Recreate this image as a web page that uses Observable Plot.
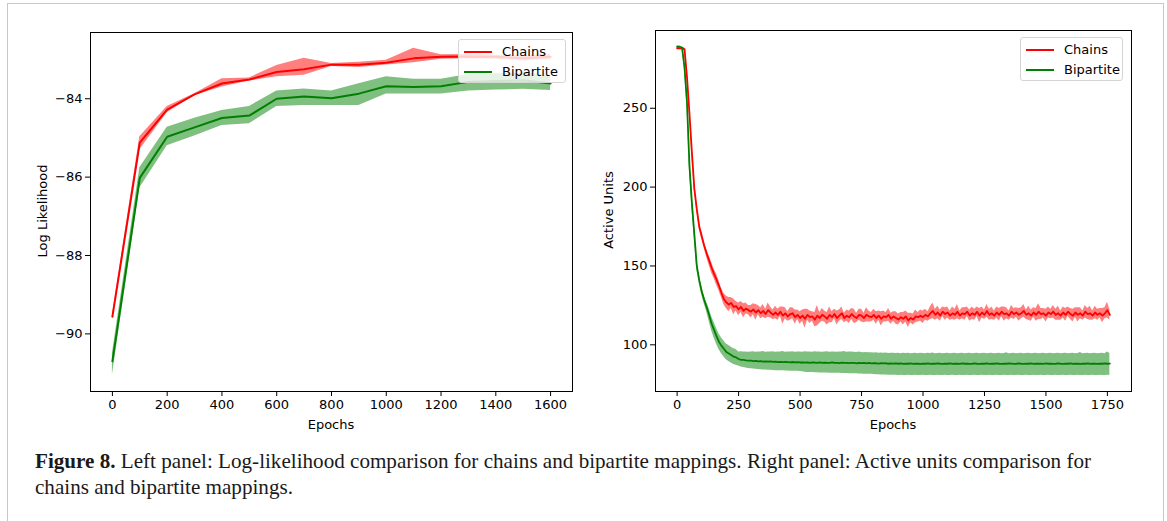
<!DOCTYPE html>
<html>
<head>
<meta charset="utf-8">
<script src="https://cdn.jsdelivr.net/npm/d3@7"></script>
<script src="https://cdn.jsdelivr.net/npm/@observablehq/plot@0.6"></script>
<style>
  html, body { margin: 0; padding: 0; background: #fff; }
  body { width: 1167px; height: 521px; overflow: hidden; position: relative; font-family: "DejaVu Sans", sans-serif; color: #000; }
  #border { position: absolute; left: 7px; top: 3px; width: 1155px; height: 540px; border: 1px solid #c8c8c8; border-bottom: none; }
  .panel { position: absolute; top: 0; }
  .panel svg { display: block; overflow: visible; }
  .ylab { position: absolute; font-size: 13px; white-space: nowrap; transform: translate(-50%, -50%) rotate(-90deg); }
  .xlab { position: absolute; font-size: 13px; white-space: nowrap; transform: translate(-50%, -50%); }
  .legend { position: absolute; background: rgba(255,255,255,0.8); border: 1px solid #d5d5d5; border-radius: 3px; font-size: 13px; z-index: 5; box-sizing: border-box; }
  .legend .row { position: absolute; left: 5px; height: 20px; line-height: 20px; display: flex; align-items: center; white-space: nowrap; }
  .legend .sw { display: inline-block; width: 28px; height: 2px; margin-right: 10px; }
  #caption { position: absolute; left: 35px; top: 448px; font-family: "Liberation Serif", "DejaVu Serif", serif; font-size: 18px; line-height: 26px; color: #1a1a1a; white-space: nowrap; }
</style>
</head>
<body>
<div id="border"></div>
<div id="left" class="panel" style="left:0px"></div>
<div id="right" class="panel" style="left:600px"></div>

<div class="ylab" style="left:42px; top:211px">Log Likelihood</div>
<div class="xlab" style="left:331px; top:424px">Epochs</div>
<div class="ylab" style="left:608px; top:210px">Active Units</div>
<div class="xlab" style="left:893px; top:424px">Epochs</div>

<div class="legend" style="left:458px; top:39px; width:108px; height:44px">
  <div class="row" style="top:2px"><span class="sw" style="background:red"></span>Chains</div>
  <div class="row" style="top:22px"><span class="sw" style="background:green"></span>Bipartite</div>
</div>
<div class="legend" style="left:1020px; top:37px; width:103px; height:44px">
  <div class="row" style="top:2px"><span class="sw" style="background:red"></span>Chains</div>
  <div class="row" style="top:22px"><span class="sw" style="background:green"></span>Bipartite</div>
</div>

<div id="caption"><span id="line1"><b>Figure 8.</b> Left panel: Log-likelihood comparison for chains and bipartite mappings. Right panel: Active units comparison for</span><br>chains and bipartite mappings.</div>

<script>
// ---------------- Left panel: log-likelihood ----------------
const llEpochs = [0, 100, 200, 300, 400, 500, 600, 700, 800, 900, 1000, 1100, 1200, 1300, 1400, 1500, 1600];
const chainsLL   = [-89.56, -85.12, -84.28, -83.89, -83.61, -83.51, -83.32, -83.25, -83.13, -83.13, -83.08, -82.97, -82.93, -82.92, -82.93, -82.97, -82.93];
const chainsLLLo = [-89.60, -85.30, -84.36, -83.92, -83.70, -83.55, -83.44, -83.40, -83.18, -83.20, -83.14, -83.08, -82.99, -82.98, -82.99, -83.04, -83.00];
const chainsLLHi = [-89.52, -84.97, -84.20, -83.87, -83.49, -83.47, -83.15, -82.97, -83.10, -83.07, -83.02, -82.71, -82.88, -82.87, -82.89, -82.91, -82.86];
const bipLL      = [-90.70, -86.02, -84.97, -84.73, -84.49, -84.43, -84.00, -83.94, -83.99, -83.87, -83.68, -83.70, -83.68, -83.57, -83.55, -83.53, -83.61];
const bipLLLo    = [-91.05, -86.28, -85.20, -84.95, -84.68, -84.64, -84.20, -84.17, -84.17, -84.17, -83.88, -83.88, -83.88, -83.80, -83.78, -83.76, -83.79];
const bipLLHi    = [-90.50, -85.76, -84.73, -84.50, -84.30, -84.20, -83.80, -83.75, -83.80, -83.62, -83.44, -83.50, -83.50, -83.38, -83.36, -83.35, -83.40];
const llXTicks = [0, 200, 400, 600, 800, 1000, 1200, 1400, 1600];
const llYTicks = [-90, -88, -86, -84];

// ---------------- Right panel: active units (every 10 epochs) ----------------
const auEpochs = d3.range(0, 1761, 10);
const chainsAU = [
  288, 288, 288, 287.5, 270, 247, 222, 199, 186, 175,
  169, 163, 158, 153.5, 149, 145, 141.5, 137.5, 133, 129,
  127, 125.5, 126.5, 124, 124.5, 122.5, 124, 121.5, 123, 122,
  121, 122.5, 120.5, 122, 120, 121.5, 119.5, 122, 120.5, 119,
  120.5, 119, 121, 118.5, 120, 118, 119.5, 120, 117.5, 119,
  117, 118.5, 116.5, 119, 117.5, 118, 116, 118.5, 117, 119,
  118, 116.5, 119, 117.5, 119.5, 117, 118.5, 120, 117, 118.5,
  117.5, 119.5, 118, 117, 119, 118.5, 117, 119, 118, 117.5,
  119, 117, 118.5, 116.5, 118, 117.5, 119, 116.5, 118, 117,
  116, 117.5, 116.5, 118, 115.5, 117, 116, 118, 117.5, 118.5,
  117.5, 119, 118, 120, 121.5, 119, 120.5, 118.5, 121, 119.5,
  120.5, 118.5, 120, 119, 121, 118.5, 120, 119.5, 121, 118.5,
  120, 119, 121, 118.5, 120.5, 119, 121.5, 119, 120, 118.5,
  120.5, 119, 121, 119.5, 120, 118.5, 121, 119.5, 120.5, 119,
  120, 121.5, 119, 120, 118.5, 120.5, 119, 121, 119.5, 120,
  118.5, 120.5, 119.5, 121, 119, 120, 118.5, 120.5, 119, 121,
  119.5, 118.5, 120.5, 119, 120, 118.5, 121, 119.5, 120, 118.5,
  120.5, 119, 120, 118.5, 120, 122, 119
];
const chainsAUSpread = [
  0.5, 0.5, 0.5, 1, 1.5, 1.5, 1.5, 1.5, 1.5, 2,
  2, 2, 2.5, 3, 3.5, 3, 3.5, 3, 3, 3.5,
  4, 4.5, 3.5, 5, 3, 4, 3.5, 4.5, 3.5, 3,
  4, 3.5, 5, 3, 3.5, 4, 3, 4.5, 3.5, 3,
  4, 3.5, 3, 5.5, 3.5, 3, 4, 3.5, 4.5, 3,
  4, 3.5, 6, 3.5, 4, 3, 4.5, 6.5, 3.5, 4,
  3.5, 4, 5, 3.5, 3, 4.5, 3.5, 4, 3, 3.5,
  4, 3.5, 4.5, 3, 3.5, 4, 3, 4.5, 3.5, 3,
  3.5, 4, 3, 4.5, 3.5, 3, 4, 3.5, 3, 4,
  3.5, 3, 4, 3.5, 4.5, 3, 3.5, 4, 3, 3.5,
  4, 3.5, 3, 4, 5, 3.5, 4, 3.5, 3, 4,
  3.5, 3, 4, 3.5, 4.5, 3, 3.5, 4, 3, 3.5,
  4, 3.5, 3, 4.5, 3.5, 3, 4, 3.5, 4, 3,
  3.5, 4, 3, 4.5, 3.5, 3, 4, 3.5, 3, 4,
  3.5, 4, 3, 4.5, 3.5, 3, 4, 5, 3.5, 3,
  4, 3.5, 3, 4, 3.5, 4.5, 3, 3.5, 4, 3,
  3.5, 4, 3, 4.5, 3.5, 3, 4, 3.5, 4.5, 3,
  4, 3.5, 3, 4.5, 3.5, 5, 3.5
];
const bipAU = [
  289, 289, 288.5, 276, 254, 214, 190, 170, 150, 141,
  134, 128.5, 124, 119, 113.5, 109.5, 105.5, 102, 99.5, 97.5,
  95.5, 94.5, 93.5, 92.5, 92, 91, 90.5, 90.5, 90.2, 90,
  90, 89.7, 89.8, 89.5, 89.6, 89.4, 89.5, 89.3, 89.5, 89.2,
  89.3, 89, 89.2, 89, 89.1, 89, 88.9, 89.1, 88.8, 89,
  88.8, 88.9, 88.7, 88.9, 88.6, 88.8, 88.7, 88.5, 88.8, 88.6,
  88.7, 88.5, 88.6, 88.8, 88.5, 88.6, 88.4, 88.7, 88.5, 88.6,
  88.4, 88.6, 88.5, 88.3, 88.6, 88.4, 88.5, 88.3, 88.5, 88.2,
  88.4, 88.3, 88.1, 88.4, 88.2, 88.3, 88, 88.2, 88.1, 88.3,
  88, 88.2, 87.9, 88.1, 88, 88.2, 87.9, 88.1, 88, 87.9,
  88.1, 88, 88.2, 87.9, 88.1, 88, 88.2, 88, 87.9, 88.1,
  88, 88.2, 87.9, 88, 88.1, 87.9, 88.2, 88, 88.1, 87.9,
  88, 88.2, 88, 87.9, 88.1, 88, 88.2, 87.9, 88.1, 88,
  88.2, 88, 87.9, 88.1, 88, 88.2, 88.1, 87.9, 88, 88.2,
  88, 87.9, 88.1, 88, 88.2, 87.9, 88, 88.1, 88, 87.9,
  88.2, 88, 88.1, 87.9, 88, 88.2, 88, 87.9, 88.1, 88,
  88.2, 87.9, 88.1, 88, 87.9, 88.1, 88, 88.2, 87.9, 88.1,
  88, 87.9, 88.1, 88, 88.2, 88, 88.1
];
const bipAUHi = [
  289.5, 289.5, 289, 278, 256.5, 217, 193, 172.5, 152.5, 143.5,
  136.5, 131, 127, 123, 118, 114.5, 110.5, 107, 104.5, 102.5,
  100.5, 99.5, 98.5, 97.5, 97, 95.5, 95.6, 95.4, 95.5, 95.3,
  95.4, 95.6, 95.3, 95.5, 95.4, 95.7, 95.3, 95.5, 95.4, 95.6,
  95.3, 95.5, 95.4, 95.8, 95.3, 95.5, 95.4, 95.6, 95.3, 95.5,
  95.4, 95.3, 95.6, 95.4, 95.5, 95.3, 95.6, 95.4, 95.5, 95.3,
  95.4, 95.6, 95.3, 95.5, 95.4, 95.3, 95.5, 95.4, 95.7, 95.3,
  95.4, 95.5, 95.3, 95.2, 95.4, 95.1, 95, 95.2, 94.9, 95,
  94.8, 94.9, 94.7, 94.8, 94.6, 94.8, 94.5, 94.7, 94.6, 94.5,
  94.6, 94.4, 94.7, 94.5, 94.6, 94.4, 94.5, 94.7, 94.4, 94.6,
  94.5, 94.4, 94.6, 94.5, 94.8, 94.4, 94.5, 94.6, 94.4, 94.5,
  94.6, 94.4, 94.5, 94.7, 94.4, 94.5, 94.6, 94.4, 94.5, 94.6,
  94.4, 94.5, 94.6, 94.4, 94.5, 94.7, 94.4, 94.5, 94.6, 94.4,
  94.5, 94.6, 94.4, 94.5, 95, 94.4, 94.5, 94.6, 94.4, 94.5,
  94.6, 94.4, 94.5, 94.6, 94.4, 94.5, 94.7, 94.4, 94.5, 94.6,
  94.4, 94.5, 94.6, 94.4, 94.5, 94.6, 94.4, 94.5, 94.6, 94.4,
  94.5, 94.6, 94.4, 94.5, 95.2, 94.4, 94.5, 94.6, 94.4, 94.5,
  94.6, 94.4, 94.5, 94.6, 94.4, 95.5, 94.5
];
const bipAULo = [
  288.5, 288.5, 288, 274, 251.5, 211, 187, 167.5, 147.5, 138.5,
  131.5, 126, 121, 115, 109, 104.5, 100.5, 97, 94.5, 92.5,
  90.5, 89.5, 88.5, 87.5, 87, 86.5, 86, 85.6, 85.3, 85,
  84.8, 84.6, 84.5, 84.3, 84.2, 84, 84, 83.9, 83.8, 83.7,
  83.6, 83.6, 83.5, 83.5, 83.4, 83.4, 83.3, 83.3, 83.2, 83.2,
  83.1, 83, 82.6, 82.5, 82.4, 82.4, 82.3, 82.3, 82.2, 82.2,
  82.1, 82.1, 82, 82, 82, 81.9, 81.9, 81.8, 81.8, 81.8,
  81.7, 81.7, 81.6, 81.6, 81.5, 81.5, 81.4, 81.4, 81.3, 81.3,
  81.2, 81.1, 81, 80.9, 80.8, 80.8, 80.7, 80.7, 80.7, 80.7,
  80.6, 80.7, 80.6, 80.6, 80.7, 80.6, 80.6, 80.7, 80.6, 80.6,
  80.7, 80.6, 80.6, 80.7, 80.6, 80.6, 80.7, 80.6, 80.6, 80.7,
  80.6, 80.6, 80.7, 80.6, 80.6, 80.7, 80.6, 80.6, 80.7, 80.6,
  80.6, 80.7, 80.6, 80.6, 80.7, 80.6, 80.6, 80.7, 80.6, 80.6,
  80.7, 80.6, 80.6, 80.7, 80.6, 80.6, 80.7, 80.6, 80.6, 80.7,
  80.6, 80.6, 80.7, 80.6, 80.6, 80.7, 80.6, 80.6, 80.7, 80.6,
  80.6, 80.7, 80.6, 80.6, 80.7, 80.6, 80.6, 80.7, 80.6, 80.6,
  80.7, 80.6, 80.6, 80.7, 80.6, 80.6, 80.7, 80.6, 80.6, 80.7,
  80.6, 80.6, 80.7, 80.6, 80.6, 80.7, 80.6
];
const auXTicks = [0, 250, 500, 750, 1000, 1250, 1500, 1750];
const auYTicks = [100, 150, 200, 250];

const seriesColors = { Chains: "red", Bipartite: "green" };

// ---------------- build tables ----------------
const llChains = llEpochs.map((e, i) => ({ epoch: e, mean: chainsLL[i], lo: chainsLLLo[i], hi: chainsLLHi[i] }));
const llBip = llEpochs.map((e, i) => ({ epoch: e, mean: bipLL[i], lo: bipLLLo[i], hi: bipLLHi[i] }));
const auChains = auEpochs.map((e, i) => ({ epoch: e, mean: chainsAU[i], lo: chainsAU[i] - chainsAUSpread[i], hi: chainsAU[i] + chainsAUSpread[i] }));
const auBip = auEpochs.map((e, i) => ({ epoch: e, mean: bipAU[i], lo: bipAULo[i], hi: bipAUHi[i] }));

const fmt = d3.format("d");
const baseStyle = { fontFamily: "DejaVu Sans, sans-serif", fontSize: "13px", color: "black", background: "transparent", overflow: "visible" };

function panel(chains, bip, opts) {
  return Plot.plot({
    width: opts.width, height: 440,
    marginLeft: opts.ml, marginRight: opts.mr, marginTop: opts.mt, marginBottom: 49,
    style: baseStyle,
    x: { domain: opts.xd, ticks: opts.xt, tickFormat: fmt, tickSize: 5, tickPadding: 3, label: null },
    y: { domain: opts.yd, ticks: opts.yt, tickFormat: fmt, tickSize: 5, tickPadding: 3, label: null },
    marks: [
      Plot.areaY(chains, { x: "epoch", y1: "lo", y2: "hi", fill: seriesColors.Chains, fillOpacity: 0.5 }),
      Plot.lineY(chains, { x: "epoch", y: "mean", stroke: seriesColors.Chains, strokeWidth: opts.sw }),
      Plot.areaY(bip, { x: "epoch", y1: "lo", y2: "hi", fill: seriesColors.Bipartite, fillOpacity: 0.5 }),
      Plot.lineY(bip, { x: "epoch", y: "mean", stroke: seriesColors.Bipartite, strokeWidth: opts.sw }),
      Plot.frame({ stroke: "black", strokeWidth: 1 })
    ]
  });
}

document.getElementById("left").append(panel(llChains, llBip, {
  width: 590, ml: 90, mr: 18, mt: 32, xd: [-80, 1680], yd: [-91.47, -82.31], xt: llXTicks, yt: llYTicks, sw: 2
}));
document.getElementById("right").append(panel(auChains, auBip, {
  width: 567, ml: 55, mr: 36, mt: 30, xd: [-88, 1848], yd: [70.4, 299.3], xt: auXTicks, yt: auYTicks, sw: 1.8
}));

// fit caption's first line to the reference width
const cap = document.getElementById("caption");
const l1 = document.getElementById("line1");
const target = 1056;
const w = l1.getBoundingClientRect().width;
if (w > 0) cap.style.fontSize = (18 * target / w).toFixed(2) + "px";
</script>
</body>
</html>
